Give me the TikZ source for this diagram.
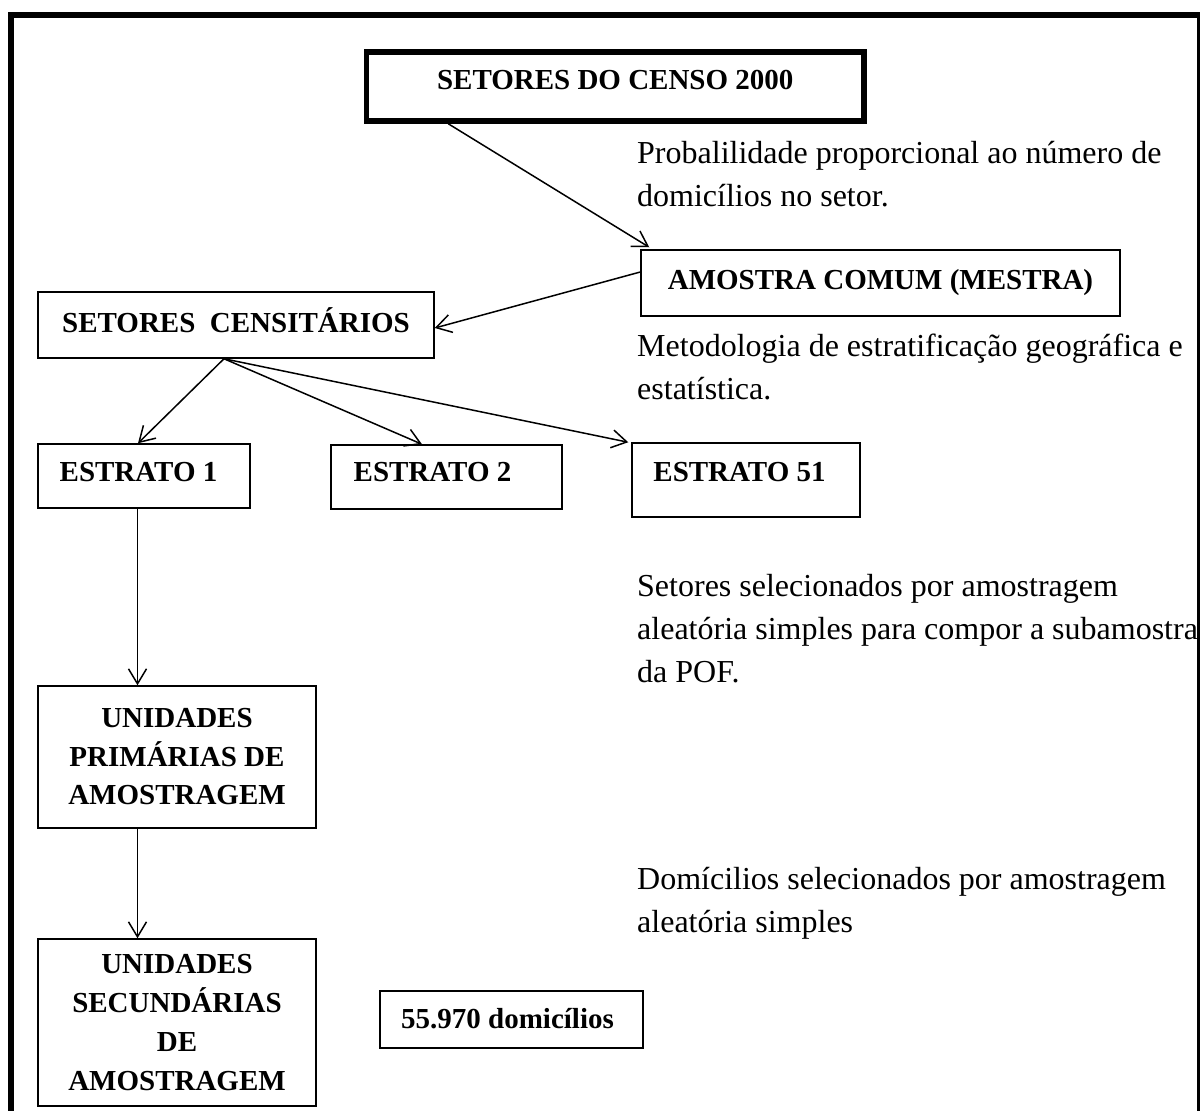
\documentclass[tikz,border=0pt]{standalone}
\usepackage{fontspec}
\setmainfont{Liberation Serif}
\usetikzlibrary{arrows.meta,calc}
\newcommand\boxfont{\fontsize{29}{38.5}\selectfont\bfseries}
\newcommand\notefont{\fontsize{32}{43}\selectfont}
\begin{document}
\begin{tikzpicture}[x=1pt,y=-1pt,
  bx/.style={draw, line width=1.5pt, inner sep=0pt, font=\boxfont, align=center},
  note/.style={font=\notefont, align=flush left, inner sep=0pt, anchor=base west, text width=600pt},
  conn/.style={line width=1.5pt, -{Straight Barb[length=15pt,width=18pt]}},
  frameline/.style={line width=6pt, line cap=butt, line join=miter}]
\useasboundingbox (0,0) rectangle (1200,1111);
\draw[frameline] (11,1125) -- (11,15) -- (1210,15);
\draw[line width=3.5pt] (1198.5,12) -- (1198.5,1125);

\node[bx, line width=5.5pt, minimum width=497.5pt, minimum height=69pt, text depth=13pt] (censo) at (615.25,86.5) {SETORES DO CENSO 2000};
\node[bx, minimum width=479pt, minimum height=66pt] (amostra) at (880.5,283) {AMOSTRA COMUM (MESTRA)};
\node[bx, minimum width=396pt, minimum height=66pt, text depth=10pt] (setcens) at (236,325) {SETORES\ \ CENSITÁRIOS};
\node[bx, minimum width=212pt, minimum height=64pt, text depth=8pt] (e1) at (144,476) {ESTRATO 1\hspace{11pt}};
\node[bx, minimum width=231pt, minimum height=64pt, text depth=10pt] (e2) at (446.5,477) {ESTRATO 2\hspace{28pt}};
\node[bx, minimum width=228pt, minimum height=74pt, text depth=16pt] (e51) at (746,480) {ESTRATO 51\hspace{13pt}};
\node[bx, minimum width=278pt, minimum height=142pt] (upa) at (177,757) {UNIDADES\\PRIMÁRIAS DE\\AMOSTRAGEM};
\node[bx, font=\fontsize{29}{39.3}\selectfont\bfseries, minimum width=278pt, minimum height=167pt] (usa) at (177,1022.5) {UNIDADES\\SECUNDÁRIAS\\DE\\AMOSTRAGEM};
\node[bx, minimum width=263pt, minimum height=57pt, text depth=3pt] (dom) at (511.5,1019.5) {55.970 domicílios\hspace{8pt}};

\node[note] (t1) at (637,163) {Probalilidade proporcional ao número de\\domicílios no setor.};
\node[note] (t2) at (637,356) {Metodologia de estratificação geográfica e\\estatística.};
\node[note] (t3) at (637,596) {Setores selecionados por amostragem\\aleatória simples para compor a subamostra\\da POF.};
\node[note] (t4) at (637,889) {Domícilios selecionados por amostragem\\aleatória simples};

\draw[conn] ([xshift=-167pt]censo.south) -- ([xshift=9pt,yshift=2pt]amostra.north west);
\draw[conn] ([yshift=11pt]amostra.west) -- ([yshift=-3pt]setcens.east);
\coordinate (fork) at ([xshift=-12pt]setcens.south);
\draw[conn] (fork) -- ([xshift=-6pt]e1.north);
\draw[conn] (fork) -- ([xshift=-24.5pt]e2.north);
\draw[conn] (fork) -- ([xshift=-3pt]e51.north west);
\coordinate (vx) at (137.5,0);
\draw[conn] (e1.south -| vx) -- (upa.north -| vx);
\draw[conn] (upa.south -| vx) -- (usa.north -| vx);
\end{tikzpicture}
\end{document}
